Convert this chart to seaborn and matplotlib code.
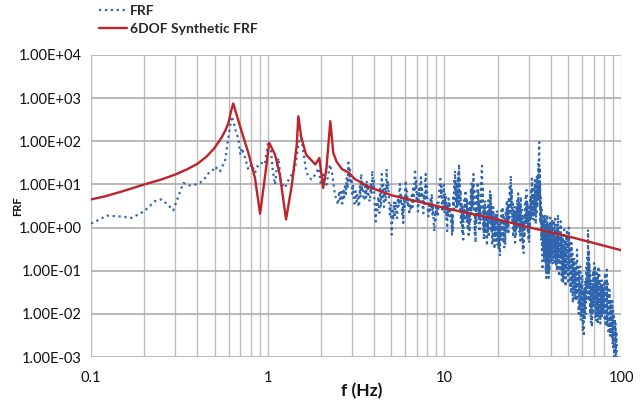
# FRF vs 6DOF synthetic FRF, log-log plot

import matplotlib
matplotlib.use('Agg')
import matplotlib.pyplot as plt
import matplotlib.ticker as mticker
import seaborn as sns

# Measured FRF (blue, dotted), read off the chart as (frequency Hz, magnitude)
# low band, 0.1 - 2.5 Hz
frf_low = [
    (0.100, 1.24), (0.110, 1.5), (0.123, 1.9), (0.143, 1.83), (0.170, 1.68),
    (0.200, 2.4), (0.230, 4.1), (0.250, 4.5), (0.270, 3.5), (0.292, 2.5),
    (0.333, 10.9), (0.360, 9.5), (0.388, 9.9), (0.414, 11), (0.442, 14),
    (0.470, 20), (0.492, 22), (0.503, 26), (0.536, 20), (0.573, 34.6),
    (0.598, 120), (0.625, 380), (0.645, 250), (0.665, 150), (0.681, 120),
    (0.700, 49), (0.713, 70), (0.745, 41), (0.776, 22), (0.810, 29),
    (0.847, 18.6), (0.885, 29), (0.923, 31.6), (0.963, 29), (1.005, 95),
    (1.04, 70), (1.07, 20), (1.10, 9.9), (1.12, 20), (1.15, 41),
    (1.17, 20), (1.19, 10.9), (1.25, 8.3), (1.30, 11.9), (1.37, 17),
    (1.43, 24.3), (1.49, 84), (1.54, 143), (1.59, 59), (1.64, 24),
    (1.69, 15.5), (1.77, 13), (1.86, 17), (1.94, 24), (2.00, 9.9),
    (2.06, 17), (2.15, 9.9), (2.25, 29), (2.32, 17), (2.40, 5.8),
    (2.50, 3.4),
]
# mid band, 2.5 - 10 Hz
frf_mid = [
    (2.54, 7), (2.57, 4.0), (2.60, 6.7), (2.64, 3.6), (2.68, 8), (2.71, 5),
    (2.74, 10.3), (2.77, 6), (2.80, 14), (2.83, 8), (2.86, 32), (2.89, 12),
    (2.92, 22), (2.95, 10.3), (2.98, 16), (3.01, 6), (3.04, 10), (3.07, 4.5),
    (3.10, 3.6), (3.14, 7), (3.18, 4), (3.22, 6), (3.26, 3.2), (3.29, 3.05),
    (3.32, 9), (3.35, 5), (3.38, 17.5), (3.41, 7), (3.44, 12), (3.48, 5),
    (3.52, 4.3), (3.56, 9), (3.60, 5), (3.63, 12.3), (3.66, 6), (3.70, 8),
    (3.74, 4.5), (3.79, 4.0), (3.83, 10), (3.87, 6), (3.91, 20.8), (3.95, 8),
    (3.99, 12), (4.03, 3), (4.08, 1.39), (4.12, 3.5), (4.17, 2.5), (4.23, 5.2),
    (4.28, 2.2), (4.33, 8), (4.38, 3), (4.42, 17.5), (4.46, 5), (4.50, 10),
    (4.55, 3), (4.60, 8), (4.65, 4), (4.71, 22.7), (4.75, 7), (4.80, 12),
    (4.86, 4.3), (4.91, 2), (4.96, 3.5), (5.03, 0.69), (5.08, 2.5), (5.13, 1.5),
    (5.18, 4), (5.24, 1.7), (5.30, 4.0), (5.35, 2), (5.40, 1.66), (5.46, 5),
    (5.51, 3), (5.56, 8), (5.61, 10.3), (5.66, 3.5), (5.71, 6), (5.77, 2),
    (5.82, 3), (5.85, 1.28), (5.90, 4.5), (5.95, 3), (6.00, 8), (6.04, 12.3),
    (6.09, 4), (6.14, 7), (6.20, 3.05), (6.26, 4.5), (6.32, 2.0), (6.38, 3.5),
    (6.45, 2.5), (6.53, 5.6), (6.60, 3), (6.66, 9), (6.72, 4), (6.77, 14),
    (6.82, 22.7), (6.87, 8), (6.92, 12), (6.97, 4), (7.03, 6), (7.08, 2.35),
    (7.12, 3), (7.18, 8), (7.24, 4), (7.30, 10), (7.37, 14.7), (7.42, 5),
    (7.47, 9), (7.53, 3), (7.60, 2.15), (7.66, 6), (7.72, 3.5), (7.78, 12),
    (7.84, 17.5), (7.90, 5), (7.96, 9), (8.03, 3), (8.12, 1.81), (8.20, 4),
    (8.28, 2.5), (8.36, 5), (8.44, 3), (8.48, 6.1), (8.55, 2), (8.62, 3),
    (8.70, 1.2), (8.77, 0.83), (8.84, 2), (8.90, 1.5), (8.97, 3.05), (9.04, 2),
    (9.12, 4), (9.20, 2), (9.30, 6), (9.39, 8), (9.48, 13.5), (9.55, 5),
    (9.62, 9), (9.70, 2.35), (9.78, 4), (9.86, 3), (9.92, 10), (9.98, 2.15),
]
# upper band, 10 - 35 Hz
frf_high = [
    (10.05, 6), (10.12, 3), (10.2, 5.1), (10.25, 1.5), (10.3, 3), (10.36, 0.83),
    (10.42, 3.5), (10.5, 1.8), (10.56, 4.7), (10.62, 2.5), (10.68, 4), (10.75, 1.8),
    (10.82, 3), (10.9, 1.2), (10.98, 2), (11.05, 0.64), (11.1, 2), (11.15, 0.8),
    (11.22, 5), (11.3, 2.6), (11.36, 12), (11.42, 4), (11.48, 20.8), (11.54, 6),
    (11.6, 11.3), (11.66, 2.6), (11.72, 7), (11.8, 3), (11.86, 12.6), (11.92, 3),
    (11.98, 18), (12.04, 4), (12.1, 29.5), (12.16, 5), (12.22, 15), (12.28, 2.6),
    (12.34, 7.3), (12.4, 1.28), (12.46, 4), (12.52, 1.5), (12.58, 3), (12.64, 0.7),
    (12.7, 2), (12.78, 0.53), (12.85, 3), (12.92, 1.5), (13.0, 5), (13.08, 1.5),
    (13.16, 7.3), (13.24, 2), (13.32, 5), (13.4, 1.3), (13.48, 4.3), (13.56, 0.9),
    (13.64, 3), (13.72, 0.6), (13.8, 2), (13.88, 0.8), (13.96, 4.3), (14.04, 1.5),
    (14.12, 8), (14.2, 2), (14.28, 12), (14.36, 3), (14.44, 10), (14.52, 3),
    (14.6, 17.5), (14.68, 2), (14.76, 8), (14.84, 0.7), (14.92, 2), (15.0, 0.45),
    (15.08, 3), (15.16, 1.2), (15.24, 6), (15.32, 2), (15.4, 11.3), (15.48, 3),
    (15.56, 7), (15.64, 1.5), (15.72, 4), (15.8, 0.8), (15.9, 3), (16.0, 1.5),
    (16.08, 12), (16.16, 3), (16.24, 20), (16.32, 27), (16.4, 4), (16.48, 9),
    (16.56, 0.9), (16.64, 3), (16.72, 0.53), (16.8, 2), (16.88, 0.8), (16.96, 4.3),
    (17.04, 1), (17.12, 3), (17.2, 0.6), (17.3, 2.5), (17.4, 0.38), (17.5, 2),
    (17.6, 0.8), (17.7, 4.3), (17.8, 0.6), (17.9, 3), (18.0, 1.5), (18.1, 7.3),
    (18.2, 1.5), (18.3, 6), (18.4, 0.8), (18.5, 3), (18.6, 0.38), (18.7, 2),
    (18.8, 0.5), (18.9, 3), (19.0, 0.9), (19.1, 1.8), (19.2, 0.32), (19.3, 1.5),
    (19.4, 0.6), (19.55, 2.2), (19.7, 0.5), (19.85, 2.5), (20.0, 0.4), (20.15, 1.5),
    (20.3, 0.3), (20.45, 1.2), (20.6, 0.22), (20.75, 1.5), (20.9, 0.5), (21.05, 2.5),
    (21.2, 0.7), (21.35, 3), (21.5, 0.45), (21.65, 2), (21.8, 0.35), (21.95, 1.5),
    (22.1, 0.4), (22.25, 2.5), (22.4, 0.8), (22.55, 4.3), (22.7, 1), (22.85, 3.5),
    (23.0, 0.7), (23.15, 5), (23.3, 1.5), (23.45, 10), (23.6, 2), (23.75, 16),
    (23.9, 3), (24.05, 8), (24.2, 1.2), (24.35, 4), (24.5, 0.6), (24.65, 2.5),
    (24.8, 0.8), (24.95, 3), (25.1, 0.45), (25.25, 2), (25.4, 0.7), (25.55, 3),
    (25.7, 0.9), (25.85, 4.5), (26.0, 1.2), (26.15, 6.2), (26.3, 1.5), (26.45, 4),
    (26.6, 0.8), (26.75, 3), (26.9, 0.5), (27.05, 5.2), (27.2, 0.8), (27.35, 3),
    (27.5, 0.45), (27.65, 2), (27.8, 0.3), (27.95, 1.5), (28.1, 0.26), (28.25, 2),
    (28.4, 0.6), (28.55, 3.5), (28.7, 1), (28.85, 5), (29.0, 1.5), (29.15, 7.4),
    (29.3, 1.2), (29.45, 4), (29.6, 0.8), (29.75, 3), (29.9, 0.5), (30.05, 2),
    (30.2, 0.45), (30.35, 3), (30.5, 1), (30.65, 5), (30.8, 1.5), (30.95, 8),
    (31.1, 2), (31.25, 13.7), (31.4, 2.5), (31.55, 6), (31.7, 1.5), (31.85, 9),
    (32.0, 2), (32.15, 5), (32.3, 1.5), (32.45, 12.6), (32.6, 3), (32.75, 7),
    (32.9, 1.2), (33.05, 10), (33.2, 2), (33.35, 16.4), (33.5, 3), (33.65, 12),
    (33.8, 4), (33.95, 30), (34.1, 5), (34.25, 60), (34.4, 95), (34.5, 8),
    (34.6, 25), (34.7, 3), (34.8, 10), (34.9, 1.28), (35.0, 5), (35.1, 1.5),
    (35.2, 3),
]
# tail, 35 - 95 Hz
frf_tail = [
    (35.35, 0.5), (35.5, 2.6), (35.65, 0.3), (35.8, 1.5), (35.95, 0.106), (36.1, 1),
    (36.25, 0.3), (36.4, 1.8), (36.55, 0.2), (36.7, 1.2), (36.85, 0.15), (37.0, 2.0),
    (37.15, 0.4), (37.3, 1.5), (37.45, 0.1), (37.6, 0.8), (37.75, 0.068), (37.9, 1.2),
    (38.05, 0.2), (38.2, 2.0), (38.35, 0.3), (38.5, 1.2), (38.65, 0.1), (38.8, 0.8),
    (38.95, 0.068), (39.1, 0.5), (39.25, 0.1), (39.4, 1.2), (39.55, 0.2), (39.7, 1.7),
    (39.85, 0.3), (40.0, 1.2), (40.15, 0.15), (40.3, 1), (40.5, 0.2), (40.7, 1.5),
    (40.9, 0.14), (41.1, 0.8), (41.3, 0.3), (41.5, 1.5), (41.7, 0.2), (41.9, 1),
    (42.1, 0.14), (42.3, 1.83), (42.5, 0.2), (42.7, 0.9), (42.9, 0.126), (43.1, 0.6),
    (43.3, 0.1), (43.5, 1.2), (43.7, 0.2), (43.9, 2.0), (44.1, 0.15), (44.3, 0.8),
    (44.5, 0.074), (44.7, 0.5), (44.9, 0.1), (45.1, 1), (45.3, 0.15), (45.5, 1.4),
    (45.7, 0.2), (45.9, 0.7), (46.1, 0.06), (46.3, 0.4), (46.5, 0.08), (46.7, 0.6),
    (46.9, 0.05), (47.1, 0.3), (47.3, 0.06), (47.6, 0.9), (47.9, 0.08), (48.2, 0.5),
    (48.5, 0.043), (48.8, 0.6), (49.1, 0.1), (49.4, 0.9), (49.7, 0.08), (50.0, 0.5),
    (50.3, 0.05), (50.6, 1.0), (50.9, 0.1), (51.2, 0.6), (51.5, 0.04), (51.8, 0.3),
    (52.1, 0.03), (52.4, 0.44), (52.7, 0.05), (53.0, 0.25), (53.3, 0.018), (53.6, 0.15),
    (53.9, 0.03), (54.2, 0.2), (54.5, 0.02), (54.8, 0.12), (55.1, 0.025), (55.5, 0.15),
    (55.9, 0.02), (56.3, 0.31), (56.7, 0.03), (57.1, 0.12), (57.5, 0.01), (57.9, 0.1),
    (58.3, 0.015), (58.7, 0.126), (59.1, 0.007), (59.5, 0.05), (59.9, 0.01), (60.3, 0.08),
    (60.7, 0.004), (61.1, 0.03), (61.5, 0.003), (61.9, 0.04), (62.3, 0.008), (62.7, 0.06),
    (63.1, 0.01), (63.5, 0.12), (63.9, 0.02), (64.3, 0.2), (64.7, 0.03), (65.0, 0.9),
    (65.3, 0.05), (65.6, 0.3), (65.9, 0.02), (66.3, 0.15), (66.7, 0.01), (67.1, 0.08),
    (67.5, 0.006), (67.9, 0.05), (68.3, 0.005), (68.7, 0.04), (69.1, 0.01), (69.5, 0.1),
    (69.9, 0.015), (70.3, 0.15), (70.7, 0.02), (71.1, 0.12), (71.5, 0.008), (71.9, 0.06),
    (72.3, 0.007), (72.7, 0.1), (73.1, 0.01), (73.5, 0.08), (73.9, 0.006), (74.3, 0.126),
    (74.7, 0.01), (75.1, 0.106), (75.5, 0.008), (75.9, 0.05), (76.3, 0.006), (76.7, 0.04),
    (77.1, 0.01), (77.5, 0.06), (77.9, 0.008), (78.3, 0.05), (78.7, 0.01), (79.1, 0.04),
    (79.5, 0.012), (80.0, 0.05), (80.5, 0.008), (81.0, 0.088), (81.5, 0.006), (82.0, 0.06),
    (82.5, 0.005), (83.0, 0.106), (83.5, 0.006), (84.0, 0.05), (84.5, 0.004), (85.0, 0.03),
    (85.5, 0.004), (86.0, 0.036), (86.5, 0.003), (87.0, 0.02), (87.5, 0.0042), (88.0, 0.02),
    (88.5, 0.003), (89.0, 0.02), (89.5, 0.002), (90.0, 0.012), (90.5, 0.0015), (91.0, 0.01),
    (91.5, 0.001), (92.0, 0.008), (92.5, 0.001), (93.0, 0.006), (93.5, 0.0009), (94.0, 0.004),
    (94.5, 0.0008),
]

# 6DOF synthetic FRF (red, solid)
syn_freq = [
    0.1, 0.12, 0.15, 0.2, 0.25, 0.3, 0.35, 0.4, 0.45, 0.5,
    0.55, 0.58, 0.6, 0.62, 0.638, 0.713, 0.776, 0.847, 0.905, 0.963,
    1.02, 1.10, 1.17, 1.27, 1.37, 1.46, 1.49, 1.55, 1.65, 1.86,
    1.96, 2.06, 2.15, 2.26, 2.35, 2.45, 2.63, 2.86, 3.1, 3.75,
    5.03, 7.12, 11.3, 20, 30, 50, 100,
]
syn_mag = [
    4.5, 5.3, 6.9, 10, 13, 17, 22.5, 30, 44, 70,
    125, 190, 270, 500, 750, 165, 55, 14.2, 2.1, 14.2,
    92, 49, 17, 1.55, 9.9, 84, 380, 120, 49, 29,
    41, 8.3, 24, 292, 54, 34, 22.7, 19, 13.5, 8.7,
    5.6, 4.0, 2.56, 1.55, 1.02, 0.63, 0.30,
]

legend_labels = ['FRF', '6DOF Synthetic FRF']
x_ticks = [0.1, 1, 10, 100]
y_ticks = [1e-3, 1e-2, 1e-1, 1e0, 1e1, 1e2, 1e3, 1e4]

frf = frf_low + frf_mid + frf_high + frf_tail
frf_freq = [p[0] for p in frf]
frf_mag = [p[1] for p in frf]

sns.set_theme(style="white")
plt.rcParams['font.family'] = ['Lato', 'DejaVu Sans']

blue = '#2F64AE'
red = '#BD2328'
grid_col = '#BDBDBD'

fig, ax = plt.subplots(figsize=(6.41, 4.04), dpi=100)
fig.subplots_adjust(left=0.142, right=0.969, bottom=0.116, top=0.864)

sns.lineplot(x=frf_freq, y=frf_mag, ax=ax, color=blue, linestyle=':',
             linewidth=1.6, estimator=None, sort=False, label=legend_labels[0])
sns.lineplot(x=syn_freq, y=syn_mag, ax=ax, color=red, linestyle='-',
             linewidth=1.7, estimator=None, sort=False, label=legend_labels[1])

ax.set_xscale('log')
ax.set_yscale('log')
ax.set_xlim(0.1, 100)
ax.set_ylim(1e-3, 1e4)

# Excel-like tick labels
ax.xaxis.set_major_locator(mticker.FixedLocator(x_ticks))
ax.xaxis.set_minor_locator(mticker.LogLocator(base=10, subs=range(2, 10), numticks=20))
ax.xaxis.set_major_formatter(mticker.FuncFormatter(lambda v, p: f'{v:g}'))
ax.xaxis.set_minor_formatter(mticker.NullFormatter())
ax.yaxis.set_major_locator(mticker.FixedLocator(y_ticks))
ax.yaxis.set_minor_locator(mticker.NullLocator())
ax.yaxis.set_major_formatter(mticker.FuncFormatter(lambda v, p: f'{v:.2E}'))

# gridlines: vertical at every decade subdivision, horizontal at decades
ax.grid(which='major', axis='y', color='#ADADAD', linewidth=1.2)
ax.grid(which='both', axis='x', color=grid_col, linewidth=1.0)
ax.set_axisbelow(True)
for s in ax.spines.values():
    s.set_visible(False)
ax.tick_params(axis='both', which='major', length=4, width=1, color=grid_col,
               labelsize=10.5, labelcolor='#111111', pad=3)
ax.tick_params(axis='both', which='minor', length=0)
ax.tick_params(axis='x', which='major', pad=6)

ax.set_xlabel('f (Hz)', fontsize=12.5, fontweight='bold', color='#111111')
ax.xaxis.set_label_coords(0.51, -0.085)
ax.set_ylabel('FRF', fontsize=8, fontweight='bold', color='#111111')
ax.yaxis.set_label_coords(-0.128, 0.5)

# legend sits above the plot area, top left
handles, labels = ax.get_legend_handles_labels()
ax.get_legend().remove()
fig.legend(handles, labels, loc='upper left', bbox_to_anchor=(99 / 641, 1 - 5 / 404),
           frameon=False, prop={'weight': 'bold', 'size': 10},
           handlelength=2.0, handletextpad=0.25, labelspacing=0.45,
           borderpad=0, borderaxespad=0)

fig.savefig('out.png', dpi=100)
